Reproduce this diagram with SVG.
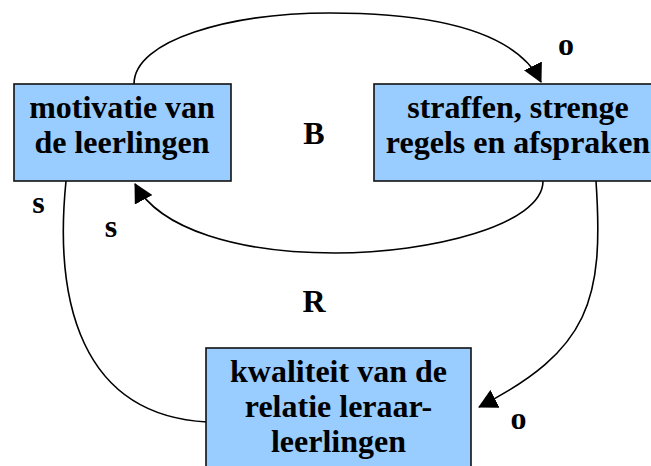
<svg xmlns="http://www.w3.org/2000/svg" width="651" height="466" viewBox="0 0 651 466">
<style>
.box{fill:#99CCFF;stroke:#111;stroke-width:1.6}
.ln{fill:none;stroke:#000;stroke-width:1.6}
</style>
<defs>
<marker id="ah" markerUnits="userSpaceOnUse" viewBox="0 0 19 20" markerWidth="19" markerHeight="20" refX="18" refY="10" orient="auto">
<path d="M0,0 L19,10 L0,20 z" fill="#000"/>
</marker>
</defs>
<rect width="651" height="466" fill="#fff"/>
<g id="connectors">
<path class="ln" d="M134,84 C134,40 230,13 330,13 C430,13 515,30 541,82" marker-end="url(#ah)"/>
<path class="ln" d="M543,181 C543,225 430,253 335,253 C240,253 160,230 135,184" marker-end="url(#ah)"/>
<path class="ln" d="M66,181 C54,300 80,415 207,422"/>
<path class="ln" d="M596,181 C604,300 590,350 479,407" marker-end="url(#ah)"/>
</g>
<g font-family="Liberation Serif, DejaVu Serif, serif" font-weight="bold" font-size="32" text-anchor="middle" fill="#000">
<g id="node-motivatie">
<rect class="box" x="14" y="84" width="217" height="97"/>
<text x="122" y="118">motivatie van</text>
<text x="122" y="153">de leerlingen</text>
</g>
<g id="node-straffen">
<rect class="box" x="374" y="84" width="290" height="97"/>
<text x="518" y="118">straffen, strenge</text>
<text x="518" y="153">regels en afspraken</text>
</g>
<g id="node-kwaliteit">
<rect class="box" x="206" y="348" width="265" height="130"/>
<text x="338.5" y="382">kwaliteit van de</text>
<text x="338.5" y="417">relatie leraar-</text>
<text x="338.5" y="452">leerlingen</text>
</g>
<g id="labels">
<text x="566" y="55">o</text>
<text x="314" y="144">B</text>
<text x="314" y="312">R</text>
<text x="38.5" y="213">s</text>
<text x="111" y="237">s</text>
<text x="518.5" y="429">o</text>
</g>
</g>
</svg>
